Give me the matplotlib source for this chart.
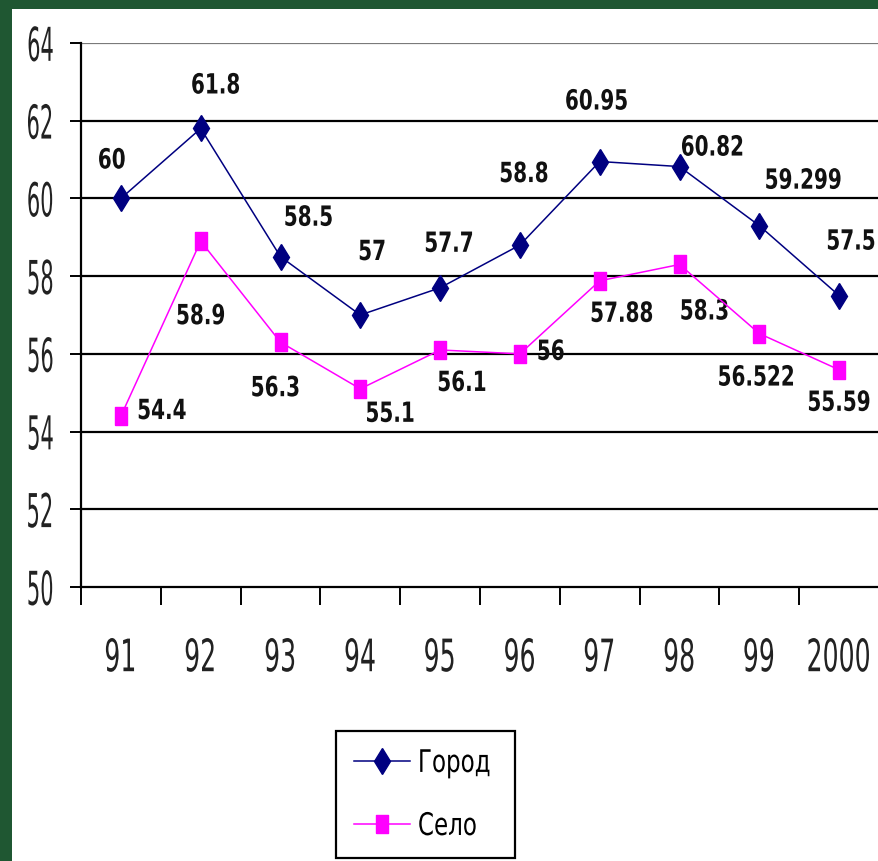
import numpy as np
import matplotlib
matplotlib.use("Agg")
import matplotlib.pyplot as plt
from matplotlib import font_manager
from matplotlib.patches import Rectangle
from matplotlib.patheffects import AbstractPathEffect
from matplotlib.transforms import Affine2D

# --- data ---
years = ["91", "92", "93", "94", "95", "96", "97", "98", "99", "2000"]
gorod = [60, 61.8, 58.5, 57, 57.7, 58.8, 60.95, 60.82, 59.299, 57.5]
selo = [54.4, 58.9, 56.3, 55.1, 56.1, 56, 57.88, 58.3, 56.522, 55.59]
yticks = [50, 52, 54, 56, 58, 60, 62, 64]

# label offsets in pixels (dx, dy) relative to the marker
gorod_off = [(-9, 38), (15, 43), (28, 39), (12, 63), (9, 44),
             (4, 71), (-3, 60), (33, 19), (44, 45), (12, 54)]
selo_off = [(41, 5), (0, -75), (-5, -46), (30, -25), (22, -33),
            (31, 2), (22, -33), (25, -47), (-3, -44), (0, -33)]


class Squeeze(AbstractPathEffect):
    """draw the text narrower / taller, like the old stretched screenshot"""
    def __init__(self, sx=1.0, sy=1.0, anchor="center"):
        super().__init__()
        self.sx, self.sy, self.anchor = sx, sy, anchor

    def draw_path(self, renderer, gc, tpath, affine, rgbFace=None):
        v = tpath.vertices
        if len(v) == 0:
            return
        x0, x1 = v[:, 0].min(), v[:, 0].max()
        y0, y1 = v[:, 1].min(), v[:, 1].max()
        if self.anchor == "right":
            cx = x1
        elif self.anchor == "left":
            cx = x0
        else:
            cx = (x0 + x1) / 2
        cy = (y0 + y1) / 2
        t = Affine2D().translate(-cx, -cy).scale(self.sx, self.sy).translate(cx, cy)
        renderer.draw_path(gc, tpath, t + affine, rgbFace)


# pick a narrow face if one is installed
names = {f.name for f in font_manager.fontManager.ttflist}
cond = [f for f in font_manager.fontManager.ttflist
        if f.name == "DejaVu Sans" and "ondensed" in f.fname]
stretch = "normal"
if "Liberation Sans Narrow" in names:
    fam = "Liberation Sans Narrow"
elif cond:
    fam = "DejaVu Sans"
    stretch = "condensed"
else:
    fam = "Liberation Sans"
plt.rcParams["font.family"] = [fam, "DejaVu Sans"]
plt.rcParams["font.stretch"] = stretch

W, H = 879, 861
fig = plt.figure(figsize=(W / 100, H / 100), dpi=100)
fig.patch.set_facecolor("#1f5732")
fig.patches.append(Rectangle((12 / W, 0), 1, 1 - 9 / H, transform=fig.transFigure,
                             facecolor="white", edgecolor="none", zorder=-5))

left, right = 81 / W, 1.0
bottom, top = 1 - 587 / H, 1 - 43 / H
ax = fig.add_axes([left, bottom, right - left, top - bottom])
ax.set_facecolor("none")

x = np.arange(len(years))
sq = [(-0.63, -1), (0.63, -1), (0.63, 1), (-0.63, 1), (-0.63, -1)]
ax.plot(x, gorod, color="#000080", lw=1.1, marker="d", ms=13,
        mfc="#000080", mec="#000080", label="Город", zorder=4, clip_on=False)
ax.plot(x, selo, color="#ff00ff", lw=1.1, marker=sq, ms=13,
        mfc="#ff00ff", mec="#ff00ff", label="Село", zorder=4, clip_on=False)

lab_fx = [Squeeze(0.8, 1.0)]
for xi, v, (dx, dy) in zip(x, gorod, gorod_off):
    ax.annotate("{:g}".format(v), (xi, v), xytext=(dx, dy), textcoords="offset pixels",
                ha="center", va="center", fontsize=20, fontweight="bold",
                color="#111111", path_effects=lab_fx)
for xi, v, (dx, dy) in zip(x, selo, selo_off):
    ax.annotate("{:g}".format(v), (xi, v), xytext=(dx, dy), textcoords="offset pixels",
                ha="center", va="center", fontsize=20, fontweight="bold",
                color="#111111", path_effects=lab_fx)

ax.set_xlim(-0.5, -0.5 + (W - 81) / 80)
ax.set_ylim(50, 64)

for yv in yticks[1:]:
    ax.axhline(yv, color="#7a7a7a" if yv == 64 else "black", lw=1.6, zorder=1)

ax.set_yticks(yticks)
ax.tick_params(axis="y", length=8, width=1.4, pad=11, labelsize=28,
               labelcolor="#222222", direction="out")

ax.set_xticks(np.arange(-0.5, len(years) + 0.5, 1))
ax.set_xticklabels([])
ax.set_xticks(x, minor=True)
ax.set_xticklabels(years, minor=True)
ax.tick_params(axis="x", which="major", length=13, width=1.4, direction="out")
ax.tick_params(axis="x", which="minor", length=0, pad=37.5, labelsize=28,
               labelcolor="#222222")

for t in ax.get_yticklabels():
    t.set_path_effects([Squeeze(0.6, 1.2, "right")])
for t in ax.get_xticklabels(minor=True):
    t.set_path_effects([Squeeze(0.72, 1.15)])

for s in ["top", "right"]:
    ax.spines[s].set_visible(False)
for s in ["left", "bottom"]:
    ax.spines[s].set_linewidth(1.6)
    ax.spines[s].set_color("black")

leg = fig.legend(loc="upper left", bbox_to_anchor=(336 / W, 1 - 731 / H),
                 fontsize=20, frameon=True, fancybox=False, borderaxespad=0,
                 borderpad=0.65, labelspacing=1.25, handlelength=2.0,
                 handletextpad=0.3)
leg.get_frame().set_edgecolor("black")
leg.get_frame().set_linewidth(1.6)
leg.get_frame().set_alpha(1)
for t in leg.get_texts():
    t.set_path_effects([Squeeze(0.92, 1.12, "left")])

fig.savefig("out.png", dpi=100, facecolor=fig.get_facecolor())
